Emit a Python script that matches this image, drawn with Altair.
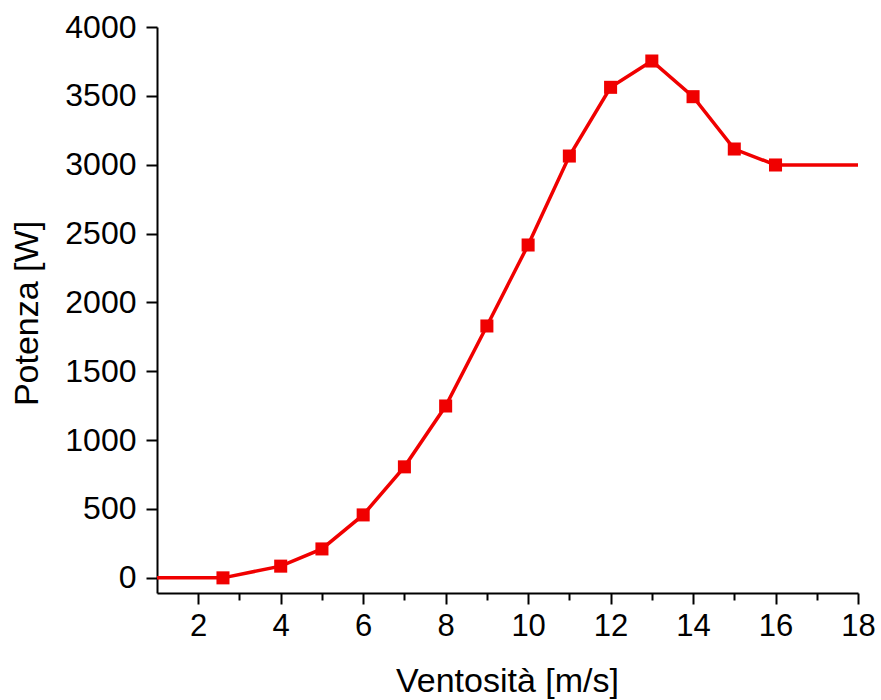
import altair as alt
import pandas as pd

# Data
wind = [1, 2.6, 4, 5, 6, 7, 8, 9, 10, 11, 12, 13, 14, 15, 16, 18]
power = [0, 0, 85, 210, 457, 806, 1248, 1829, 2417, 3063, 3562, 3753, 3494, 3114, 2998, 2998]
has_marker = [False] + [True] * 14 + [False]

x_ticks = list(range(2, 19))
y_ticks = list(range(0, 4001, 250))

df = pd.DataFrame({"v": wind, "p": power, "m": has_marker})

RED = "#f00000"
FONT = "Liberation Sans"

x_scale = alt.Scale(domain=[1, 18], nice=False, zero=False)
y_scale = alt.Scale(domain=[-110, 4000], nice=False, zero=False)

x_axis = alt.Axis(
    values=x_ticks,
    labelExpr="datum.value % 2 === 0 ? datum.label : ''",
    tickSize={"condition": {"test": "datum.value % 2 === 0", "value": 11}, "value": 7},
    tickWidth=2, tickColor="black",
    domainWidth=2, domainColor="black",
    labelFont=FONT, labelFontSize=31, labelColor="black", labelPadding=7,
    labelFlush=False, labelOverlap=False,
    grid=False,
    title="Ventosità [m/s]",
    titleFont=FONT, titleFontSize=34, titleFontWeight="normal", titleColor="black",
    titleX=350, titleY=98, titleBaseline="alphabetic", titleAlign="center",
)

y_axis = alt.Axis(
    values=y_ticks,
    labelExpr="datum.value % 500 === 0 ? datum.label : ''",
    format="d",
    tickSize={"condition": {"test": "datum.value % 500 === 0", "value": 11}, "value": 7},
    tickWidth=2, tickColor="black",
    domainWidth=2, domainColor="black",
    labelFont=FONT, labelFontSize=32, labelColor="black", labelPadding=10,
    labelFlush=False, labelOverlap=False,
    grid=False,
    title="Potenza [W]",
    titleFont=FONT, titleFontSize=34, titleFontWeight="normal", titleColor="black",
    titleAngle=-90, titleX=-120, titleY=286, titleBaseline="alphabetic", titleAlign="center",
)

base = alt.Chart(df)

line = base.mark_line(color=RED, strokeWidth=3.5).encode(
    x=alt.X("v:Q", scale=x_scale, axis=x_axis),
    y=alt.Y("p:Q", scale=y_scale, axis=y_axis),
)

points = base.transform_filter("datum.m").mark_point(
    shape="square", filled=True, color=RED, size=170, opacity=1
).encode(
    x=alt.X("v:Q", scale=x_scale),
    y=alt.Y("p:Q", scale=y_scale),
)

chart = (line + points).properties(
    width=701,
    height=566,
    autosize=alt.AutoSizeParams(type="none"),
    padding={"left": 157, "top": 27, "right": 23, "bottom": 107},
    background="white",
).configure_view(stroke=None)

chart.save("out.html", embed_options={"renderer": "svg", "actions": False})
